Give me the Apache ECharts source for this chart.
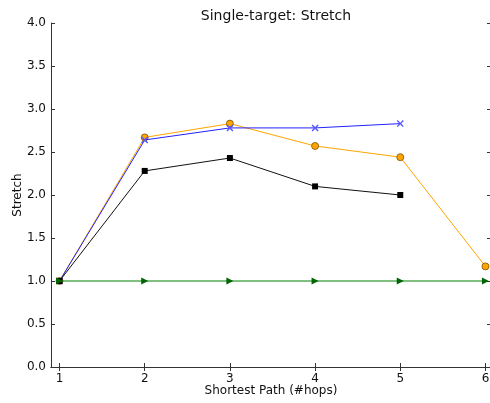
<!DOCTYPE html>
<html>
<head>
<meta charset="utf-8">
<script src="https://cdn.jsdelivr.net/npm/echarts@6/dist/echarts.min.js"></script>
<style>
html,body{margin:0;padding:0;background:#fff;}
#chart{width:490px;height:403px;}
</style>
</head>
<body>
<div id="chart"></div>
<script>
// Shortest path length (hops) on the x axis
const hops = [1, 2, 3, 4, 5, 6];
const yTicks = [0.0, 0.5, 1.0, 1.5, 2.0, 2.5, 3.0, 3.5, 4.0];

// Stretch per hop count, one array per scheme
const orangeStretch = [1.0, 2.67, 2.83, 2.57, 2.44, 1.17];
const blueStretch = [1.0, 2.64, 2.78, 2.78, 2.83];
const blackStretch = [1.0, 2.28, 2.43, 2.10, 2.00];
const greenStretch = [1.0, 1.0, 1.0, 1.0, 1.0, 1.0];

const pairs = (ys) => ys.map((y, i) => [hops[i], y]);

const FONT = 'DejaVu Sans';
const X_MIN = 0.9, X_MAX = 6.065;
const xMark = 'path://M0,1.4L1.4,0L5,3.6L8.6,0L10,1.4L6.4,5L10,8.6L8.6,10L5,6.4L1.4,10L0,8.6L3.6,5Z';

const chart = echarts.init(document.getElementById('chart'), null, {renderer: 'canvas'});

const frameLine = {show: true, lineStyle: {color: '#333', width: 1}};

chart.setOption({
  backgroundColor: '#fff',
  animation: false,
  title: {
    text: 'Single-target: Stretch',
    left: 271, top: 4, textAlign: 'center',
    textStyle: {fontFamily: FONT, fontSize: 14, fontWeight: 'normal', color: '#111'}
  },
  grid: {left: 51, top: 23, width: 440, height: 344, containLabel: false, outerBoundsMode: 'none'},
  xAxis: [{
    type: 'value', min: X_MIN, max: X_MAX,
    name: 'Shortest Path (#hops)', nameLocation: 'middle', nameGap: 18, nameMoveOverlap: false,
    nameTextStyle: {fontFamily: FONT, fontSize: 12, color: '#111'},
    axisLine: frameLine,
    axisTick: {show: true, inside: true, length: 4, customValues: hops, lineStyle: {color: '#333'}},
    axisLabel: {customValues: hops, fontFamily: FONT, fontSize: 12, color: '#111', margin: 6},
    splitLine: {show: false}
  }, {
    type: 'value', min: X_MIN, max: X_MAX, position: 'top',
    axisLine: frameLine,
    axisTick: {show: true, inside: true, length: 4, customValues: hops, lineStyle: {color: '#333'}},
    axisLabel: {show: false},
    splitLine: {show: false}
  }],
  yAxis: [{
    type: 'value', min: 0, max: 4, interval: 0.5,
    name: 'Stretch', nameLocation: 'middle', nameGap: 27, nameRotate: 90, nameMoveOverlap: false,
    nameTextStyle: {fontFamily: FONT, fontSize: 12, color: '#111'},
    axisLine: frameLine,
    axisTick: {show: true, inside: true, length: 4, lineStyle: {color: '#333'}},
    axisLabel: {
      customValues: yTicks,
      fontFamily: FONT, fontSize: 12, color: '#111', margin: 5,
      formatter: (v) => v.toFixed(1)
    },
    splitLine: {show: false}
  }, {
    type: 'value', min: 0, max: 4, interval: 0.5, position: 'right',
    axisLine: frameLine,
    axisTick: {show: true, inside: true, length: 4, lineStyle: {color: '#333'}},
    axisLabel: {show: false},
    splitLine: {show: false}
  }],
  series: [{
    name: 'orange', type: 'line', data: pairs(orangeStretch), z: 3,
    symbol: 'circle', symbolSize: 7,
    lineStyle: {color: '#FFA500', width: 1},
    itemStyle: {color: '#FFA500', borderColor: '#7a5200', borderWidth: 0.8}
  }, {
    name: 'blue', type: 'line', data: pairs(blueStretch), z: 4,
    symbol: xMark, symbolSize: 7,
    lineStyle: {color: '#2222ff', width: 1},
    itemStyle: {color: '#5555ff', borderWidth: 0}
  }, {
    name: 'black', type: 'line', data: pairs(blackStretch), z: 5,
    symbol: 'rect', symbolSize: 6,
    lineStyle: {color: '#111', width: 1},
    itemStyle: {color: '#000', borderWidth: 0}
  }, {
    name: 'green', type: 'line', data: pairs(greenStretch), z: 6,
    symbol: 'triangle', symbolSize: 7, symbolRotate: -90,
    lineStyle: {color: '#008000', width: 1},
    itemStyle: {color: '#006400', borderWidth: 0}
  }]
});
</script>
</body>
</html>
